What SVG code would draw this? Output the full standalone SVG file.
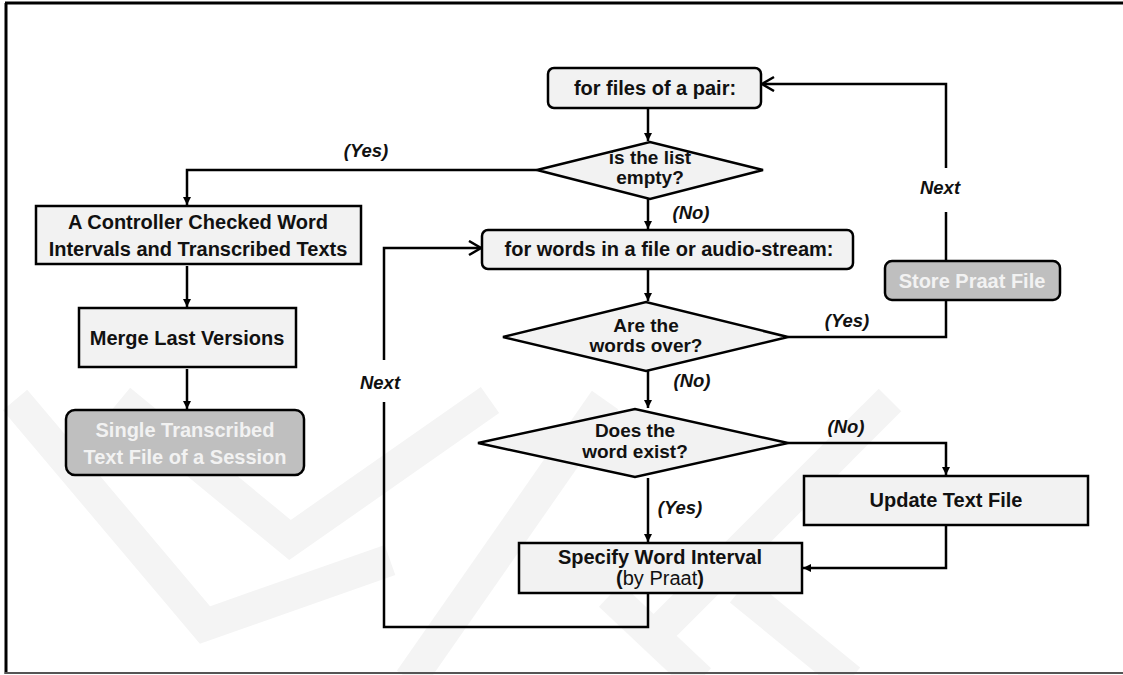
<svg xmlns="http://www.w3.org/2000/svg" width="1123" height="675" viewBox="0 0 1123 675">
<style>
.box{fill:#f2f2f2;stroke:#000;stroke-width:2.5}
.gbox{fill:#bfbfbf;stroke:#000;stroke-width:2.5}
.t{font-family:"Liberation Sans",Arial,sans-serif;font-weight:bold;font-size:20px;fill:#111;text-anchor:middle}
.tw{font-family:"Liberation Sans",Arial,sans-serif;font-weight:bold;font-size:20px;fill:#f2f2f2;text-anchor:middle}
.td{font-family:"Liberation Sans",Arial,sans-serif;font-weight:bold;font-size:19px;fill:#111;text-anchor:middle}
.lbl{font-family:"Liberation Sans",Arial,sans-serif;font-weight:bold;font-style:italic;font-size:18.5px;fill:#111;text-anchor:middle}
.c{fill:none;stroke:#000;stroke-width:2.5}
.wm{fill:none;stroke:#f4f4f4;stroke-width:32}
</style>
<defs>
<marker id="a" markerUnits="userSpaceOnUse" markerWidth="10" markerHeight="10" refX="8" refY="4" orient="auto"><path d="M0,0 L8,4 L0,8 Z" fill="#000"/></marker>
<marker id="o" markerUnits="userSpaceOnUse" markerWidth="16" markerHeight="18" refX="13" refY="8" orient="auto"><path d="M1,1 L13,8 L1,15" fill="none" stroke="#000" stroke-width="2.5"/></marker>
</defs>
<rect width="1123" height="675" fill="#fff"/>
<g id="watermark">
<polyline class="wm" points="15,400 205,625 390,560"/>
<polyline class="wm" points="120,400 290,540 490,400"/>
<line class="wm" x1="410" y1="680" x2="605" y2="400"/>
<line class="wm" x1="610" y1="595" x2="700" y2="680"/>
<line class="wm" x1="650" y1="640" x2="890" y2="400"/>
<line class="wm" x1="740" y1="590" x2="850" y2="680"/>
</g>
<g id="frame">
<line x1="6" y1="3" x2="6" y2="674" stroke="#000" stroke-width="3"/>
<line x1="5" y1="3" x2="1123" y2="3" stroke="#000" stroke-width="3"/>
<line x1="5" y1="673" x2="1123" y2="673" stroke="#555" stroke-width="2"/>
</g>
<g id="connectors">
<line class="c" x1="648" y1="108" x2="648" y2="141" marker-end="url(#a)"/>
<polyline class="c" points="537,170 187,170 187,205" marker-end="url(#a)"/>
<line class="c" x1="648" y1="199" x2="648" y2="229" marker-end="url(#a)"/>
<line class="c" x1="187" y1="266" x2="187" y2="307" marker-end="url(#a)"/>
<line class="c" x1="187" y1="369" x2="187" y2="409" marker-end="url(#a)"/>
<line class="c" x1="648" y1="269" x2="648" y2="301" marker-end="url(#a)"/>
<polyline class="c" points="788,337 946,337 946,300"/>
<line class="c" x1="946" y1="261" x2="946" y2="212"/>
<polyline class="c" points="946,168 946,84 762,84" marker-end="url(#o)"/>
<line class="c" x1="648" y1="371" x2="648" y2="408" marker-end="url(#a)"/>
<polyline class="c" points="788,443 946,443 946,475" marker-end="url(#a)"/>
<line class="c" x1="648" y1="478" x2="648" y2="542" marker-end="url(#a)"/>
<polyline class="c" points="946,525 946,568 803,568" marker-end="url(#a)"/>
<polyline class="c" points="648,593 648,627 384,627 384,402"/>
<polyline class="c" points="384,360 384,248 481,248" marker-end="url(#o)"/>
<text class="lbl" x="366" y="157">(Yes)</text>
<text class="lbl" x="691" y="219">(No)</text>
<text class="lbl" x="940" y="194">Next</text>
<text class="lbl" x="847" y="327">(Yes)</text>
<text class="lbl" x="692" y="387">(No)</text>
<text class="lbl" x="380" y="389">Next</text>
<text class="lbl" x="846" y="433">(No)</text>
<text class="lbl" x="680" y="514">(Yes)</text>
</g>
<g id="n-forfiles">
<rect class="box" x="548" y="68" width="213" height="40" rx="6"/>
<text class="t" x="655" y="95">for files of a pair:</text>
</g>
<g id="n-listempty">
<polygon class="box" points="537,170 650,142 763,170 650,199"/>
<text class="td" x="650" y="164">is the list</text>
<text class="td" x="650" y="184">empty?</text>
</g>
<g id="n-controller">
<rect class="box" x="36" y="206" width="325" height="58"/>
<text class="t" x="198" y="229">A Controller Checked Word</text>
<text class="t" x="198" y="256">Intervals and Transcribed Texts</text>
</g>
<g id="n-forwords">
<rect class="box" x="482" y="230" width="371" height="39" rx="6"/>
<text class="t" x="669" y="256" font-size="20.8">for words in a file or audio-stream:</text>
</g>
<g id="n-store">
<rect class="gbox" x="885" y="261" width="175" height="39" rx="7"/>
<text class="tw" x="972" y="288">Store Praat File</text>
</g>
<g id="n-merge">
<rect class="box" x="79" y="308" width="217" height="59"/>
<text class="t" x="187" y="345">Merge Last Versions</text>
</g>
<g id="n-wordsover">
<polygon class="box" points="503,337 646,302 788,337 646,371"/>
<text class="td" x="646" y="332">Are the</text>
<text class="td" x="646" y="352">words over?</text>
</g>
<g id="n-single">
<rect class="gbox" x="66" y="410" width="238" height="65" rx="9"/>
<text class="tw" x="185" y="437">Single Transcribed</text>
<text class="tw" x="185" y="464">Text File of a Session</text>
</g>
<g id="n-wordexist">
<polygon class="box" points="478,443 635,409 788,443 635,477"/>
<text class="td" x="635" y="437">Does the</text>
<text class="td" x="635" y="458">word exist?</text>
</g>
<g id="n-update">
<rect class="box" x="804" y="476" width="284" height="49"/>
<text class="t" x="946" y="507">Update Text File</text>
</g>
<g id="n-specify">
<rect class="box" x="519" y="543" width="283" height="50"/>
<text class="t" x="660" y="564">Specify Word Interval</text>
<text class="t" x="660" y="585">(<tspan font-weight="normal">by Praat</tspan>)</text>
</g>
</svg>
